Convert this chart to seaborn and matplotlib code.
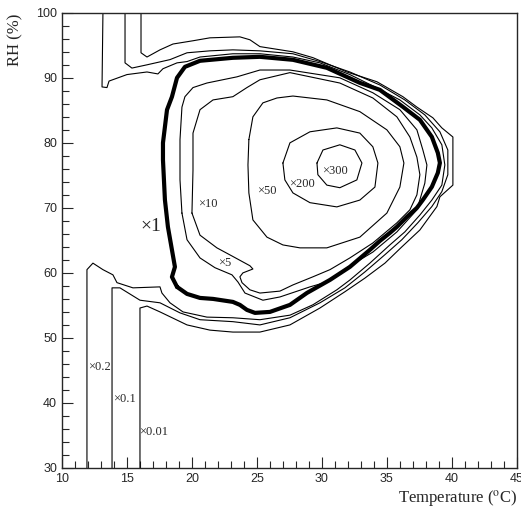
import matplotlib
matplotlib.use("Agg")
import matplotlib.pyplot as plt
import seaborn as sns
import numpy as np

# contour lines: temperature (C) and RH (%)
t_x001 = [16.0, 16.0, 16.54, 17.54, 19.62, 21.38, 23.15, 25.23, 27.54, 29.85, 31.77, 33.31, 34.85, 36.15, 37.54, 38.85, 39.08, 40.08, 40.08, 39.23, 38.54, 37.31, 36.23, 34.23, 31.92, 29.31, 27.77, 25.23, 24.46, 23.69, 21.38, 20.08, 18.54, 17.54, 16.54, 16.08, 16.08]
rh_x001 = [30.0, 54.6, 54.9, 54.0, 52.0, 51.2, 50.9, 50.9, 52.0, 54.6, 57.1, 59.2, 61.5, 64.0, 66.6, 70.2, 71.7, 73.5, 80.9, 82.3, 83.85, 85.5, 87.1, 89.4, 90.9, 93.1, 94.0, 94.8, 95.85, 96.3, 96.15, 95.7, 95.2, 94.3, 93.2, 93.85, 100.0]

t_x01 = [13.85, 13.85, 14.46, 16.0, 17.54, 19.08, 20.62, 23.15, 25.23, 27.54, 29.85, 31.77, 33.31, 34.85, 36.15, 37.38, 38.46, 39.23, 39.69, 39.69, 39.08, 37.92, 36.38, 34.46, 32.15, 29.85, 27.77, 25.23, 23.15, 21.38, 19.62, 18.31, 16.54, 15.38, 14.85, 14.85]
rh_x01 = [30.0, 57.7, 57.7, 55.8, 55.4, 53.85, 52.8, 52.5, 52.0, 53.1, 55.4, 57.7, 60.15, 62.8, 65.1, 67.7, 70.2, 72.5, 75.1, 78.9, 81.7, 84.3, 86.6, 88.9, 90.9, 92.5, 93.7, 94.15, 94.3, 94.15, 93.85, 92.8, 92.0, 91.5, 92.3, 100.0]

t_x02 = [11.92, 11.92, 12.38, 13.15, 13.92, 14.23, 15.46, 17.54, 17.69, 18.31, 19.31, 21.15, 23.15, 25.23, 27.54, 29.31, 31.15, 32.15, 33.69, 35.23, 36.38, 37.54, 38.46, 39.23, 39.46, 39.23, 38.46, 37.54, 36.0, 34.08, 32.15, 29.85, 27.77, 25.23, 23.15, 20.62, 19.62, 18.85, 17.77, 17.38, 16.54, 15.0, 13.62, 13.46, 13.08, 13.15]
rh_x02 = [30.0, 60.5, 61.5, 60.5, 59.7, 58.5, 57.7, 57.85, 56.9, 55.4, 54.0, 53.2, 53.1, 52.8, 53.5, 55.1, 57.4, 58.9, 61.5, 64.3, 66.3, 68.9, 71.2, 73.5, 76.6, 79.7, 82.3, 84.3, 86.6, 88.6, 90.5, 92.3, 93.2, 93.7, 93.7, 93.2, 92.5, 92.3, 91.4, 90.6, 90.9, 90.5, 89.5, 88.5, 88.6, 100.0]

t_x1 = [18.85, 18.46, 18.69, 18.15, 17.92, 17.77, 17.77, 18.08, 18.46, 18.85, 19.46, 20.62, 23.15, 25.23, 27.77, 30.38, 32.92, 34.46, 36.23, 37.54, 38.46, 38.92, 39.08, 38.92, 38.46, 37.77, 37.31, 36.54, 35.77, 35.23, 34.46, 33.69, 32.15, 30.62, 28.85, 27.54, 26.0, 24.85, 24.23, 23.69, 23.15, 21.62, 20.62, 19.62]
rh_x1 = [57.85, 59.38, 60.92, 67.08, 71.23, 77.38, 80.0, 85.08, 87.08, 90.0, 91.69, 92.62, 93.08, 93.23, 92.77, 91.54, 89.23, 88.15, 85.54, 83.54, 80.92, 78.46, 76.92, 75.38, 73.23, 71.23, 70.0, 68.62, 67.08, 66.15, 64.92, 63.54, 60.92, 58.92, 56.92, 55.08, 54.0, 53.85, 54.31, 55.08, 55.54, 56.0, 56.15, 56.77]

t_x5 = [19.23, 19.08, 19.08, 19.23, 19.46, 20.08, 21.15, 23.46, 25.23, 27.54, 31.38, 33.92, 36.0, 37.31, 37.77, 38.08, 37.92, 37.31, 35.77, 33.92, 32.0, 30.38, 29.08, 26.77, 25.46, 24.08, 23.54, 23.08, 21.77, 20.62, 19.62]
rh_x5 = [69.2, 74.3, 80.5, 85.5, 87.1, 88.5, 89.2, 90.15, 91.2, 91.2, 90.0, 87.7, 85.1, 82.0, 78.9, 76.6, 73.8, 69.7, 66.3, 63.2, 60.9, 58.6, 57.85, 56.3, 55.8, 56.9, 58.6, 59.7, 60.8, 62.3, 65.1]

t_x10 = [20.0, 20.08, 20.08, 20.62, 21.62, 23.15, 24.23, 25.23, 27.54, 31.38, 33.92, 35.77, 36.77, 37.31, 37.54, 37.31, 36.77, 35.77, 33.92, 32.15, 30.62, 29.31, 27.77, 26.77, 25.23, 24.46, 23.85, 23.69, 23.92, 24.69, 24.46, 23.08, 21.92, 20.62]
rh_x10 = [69.2, 75.8, 81.5, 85.1, 86.6, 87.1, 88.5, 89.7, 90.8, 89.2, 86.9, 84.0, 80.9, 77.8, 75.1, 72.0, 69.7, 67.7, 64.6, 62.3, 60.5, 59.4, 58.15, 57.2, 56.9, 57.4, 58.5, 59.4, 60.0, 60.6, 61.1, 62.6, 63.85, 65.8]

t_x50 = [24.38, 24.31, 24.38, 24.69, 25.77, 27.0, 28.31, 30.38, 32.92, 35.0, 36.0, 36.31, 36.0, 35.0, 32.92, 30.38, 27.77, 26.54, 25.46, 24.69]
rh_x50 = [80.5, 76.6, 72.3, 68.15, 65.5, 64.3, 63.85, 63.85, 65.5, 69.2, 73.2, 76.9, 79.4, 82.0, 84.8, 86.6, 87.2, 86.9, 86.15, 84.0]

t_x200 = [27.0, 27.54, 29.08, 31.15, 32.92, 33.92, 34.31, 34.08, 32.92, 31.15, 29.08, 27.77, 27.15]
rh_x200 = [76.9, 80.0, 81.7, 82.3, 81.5, 79.4, 76.9, 73.2, 71.2, 70.15, 70.8, 72.3, 74.3]

t_x300 = [29.62, 30.08, 31.38, 32.54, 33.08, 32.69, 31.38, 30.38, 29.69]
rh_x300 = [76.9, 78.9, 79.7, 78.9, 76.9, 74.3, 73.1, 73.5, 75.1]

# contour labels
label_text = ["\u00d70.2", "\u00d70.1", "\u00d70.01", "\u00d75", "\u00d710", "\u00d750", "\u00d7200", "\u00d7300"]
label_t = [12.0, 13.9, 15.9, 22.0, 20.5, 25.0, 27.5, 30.0]
label_rh = [45.5, 40.6, 35.5, 61.5, 70.6, 72.6, 73.7, 75.7]

sns.set_style("ticks")
plt.rcParams["mathtext.fontset"] = "stix"

fig, ax = plt.subplots(figsize=(5.21, 5.12), dpi=100)
fig.subplots_adjust(left=0.119, right=0.992, bottom=0.086, top=0.975)

open_lines = [(t_x001, rh_x001), (t_x01, rh_x01), (t_x02, rh_x02)]
closed_lines = [(t_x5, rh_x5), (t_x10, rh_x10), (t_x50, rh_x50), (t_x200, rh_x200), (t_x300, rh_x300)]

for t, rh in open_lines:
    sns.lineplot(x=t, y=rh, sort=False, estimator=None, color="black", linewidth=0.8, ax=ax)
for t, rh in closed_lines:
    sns.lineplot(x=t + t[:1], y=rh + rh[:1], sort=False, estimator=None, color="black", linewidth=0.8, ax=ax)

# the x1 contour is drawn heavy
sns.lineplot(x=t_x1 + t_x1[:1], y=rh_x1 + rh_x1[:1], sort=False, estimator=None,
             color="black", linewidth=3.0, ax=ax)

for s, t, rh in zip(label_text, label_t, label_rh):
    ax.text(t, rh, s, fontsize=9, family="Liberation Serif", va="center", ha="left")
ax.text(16.0, 67.2, "\u00d71", fontsize=14, family="Liberation Serif", va="center", ha="left")

ax.set_xlim(10, 45)
ax.set_ylim(30, 100)
ax.set_xticks(np.arange(10, 46, 5))
ax.set_yticks(np.arange(30, 101, 10))
ax.set_xticks(np.arange(10, 46, 1), minor=True)
ax.set_yticks(np.arange(30, 101, 2), minor=True)
ax.tick_params(which="both", direction="in", top=False, right=False, width=0.8)
ax.tick_params(which="major", length=8, labelsize=9)
ax.tick_params(which="minor", length=5)
for lab in ax.get_xticklabels() + ax.get_yticklabels():
    lab.set_family("Liberation Sans")
for sp in ax.spines.values():
    sp.set_linewidth(1.0)
    sp.set_visible(True)

ax.set_xlabel(r"Temperature ($^{\mathrm{o}}$C)", fontsize=12, family="Liberation Serif")
ax.set_ylabel("RH (%)", fontsize=12, family="Liberation Serif")
ax.xaxis.set_label_coords(0.87, -0.045)
ax.yaxis.set_label_coords(-0.085, 0.94)

fig.savefig("out.png", dpi=100)
